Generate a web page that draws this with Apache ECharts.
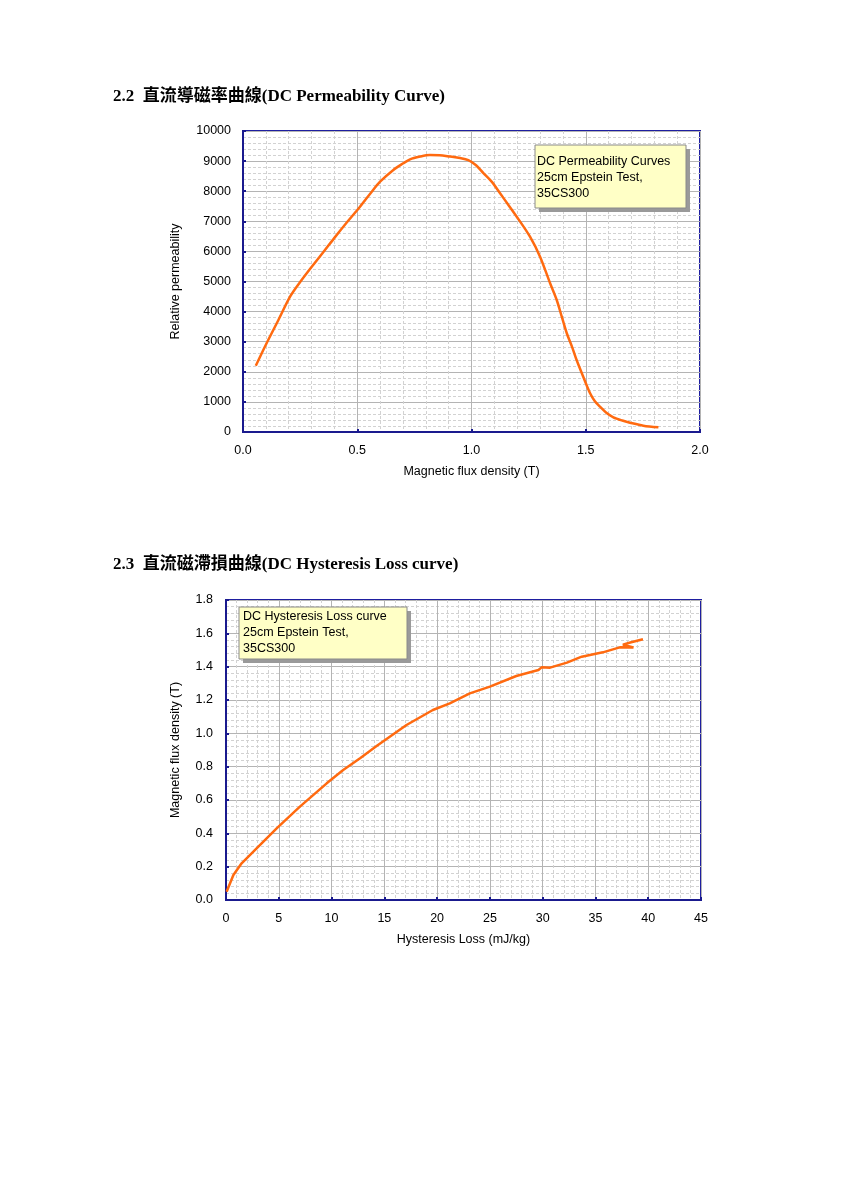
<!DOCTYPE html>
<html>
<head>
<meta charset="utf-8">
<script src="https://cdn.jsdelivr.net/npm/echarts@6/dist/echarts.min.js"></script>
<style>html,body{margin:0;padding:0;background:#fff;}#c{width:849px;height:1200px;}</style>
</head>
<body>
<div id="c"></div>
<script>
// ---- Data: DC Permeability curve (B in T, relative permeability)
var permB  = [0.056, 0.10, 0.155, 0.206, 0.25, 0.30, 0.352, 0.40, 0.454, 0.512, 0.56, 0.60, 0.658, 0.70, 0.731, 0.775, 0.818, 0.86, 0.906, 0.95, 0.986, 1.02, 1.052, 1.09, 1.125, 1.16, 1.198, 1.256, 1.30, 1.344, 1.373, 1.395, 1.417, 1.44, 1.46, 1.489, 1.519, 1.54, 1.562, 1.59, 1.621, 1.66, 1.694, 1.752, 1.818];
var permMu = [2200, 2900, 3720, 4495, 4980, 5480, 5980, 6450, 6960, 7485, 7950, 8315, 8705, 8920, 9060, 9150, 9200, 9195, 9150, 9100, 9030, 8860, 8600, 8300, 7930, 7560, 7153, 6489, 5824, 4940, 4385, 3830, 3280, 2830, 2392, 1837, 1285, 1020, 841, 640, 488, 380, 310, 210, 155];
// ---- Data: DC Hysteresis loss curve (loss mJ/kg, B in T)
var lossL = [0.06, 0.7, 1.48, 2.9, 4.8, 7.0, 9.54, 11.1, 12.7, 14.3, 17.1, 19.6, 21.2, 23.1, 25.0, 27.5, 29.6, 29.9, 30.7, 32.3, 33.7, 35.7, 37.3, 38.6, 37.6, 38.3, 39.5];
var lossB = [0.05, 0.15, 0.22, 0.31, 0.43, 0.56, 0.70, 0.78, 0.85, 0.925, 1.05, 1.14, 1.18, 1.24, 1.28, 1.344, 1.38, 1.396, 1.394, 1.424, 1.46, 1.486, 1.516, 1.515, 1.532, 1.545, 1.564];
// ---- Texts
var title1 = '2.2  直流導磁率曲線(DC Permeability Curve)';
var title2 = '2.3  直流磁滯損曲線(DC Hysteresis Loss curve)';
var note1 = ['DC Permeability Curves', '25cm Epstein Test,', '35CS300'];
var note2 = ['DC Hysteresis Loss curve', '25cm Epstein Test,', '35CS300'];

function pairs(xs, ys){ return xs.map(function(x,i){ return [x, ys[i]]; }); }

var FONT = '"Liberation Sans", Arial, sans-serif';
var AXC = '#1a1a8e';
function axisCommon(extra){
  var o = {
    axisLine: {show: true, onZero: false, lineStyle: {color: AXC, width: 2}},
    axisTick: {show: true, inside: true, length: 3, lineStyle: {color: AXC, width: 2}},
    axisLabel: {color: '#000', fontFamily: FONT, fontSize: 12.5, margin: 12, formatter: function(v){ return String(v); }},
    splitLine: {show: true, lineStyle: {color: '#b4b4b4', width: 1}},
    minorTick: {show: true, splitNumber: 5, length: 0},
    minorSplitLine: {show: true, lineStyle: {color: '#d2d2d2', width: 1, type: [3, 2]}},
    nameLocation: 'middle',
    nameTextStyle: {color: '#000', fontFamily: FONT, fontSize: 12.5}
  };
  for (var k in extra) o[k] = extra[k];
  return o;
}
function noteBox(x, y, w, h, lines, tx, ty){
  return {
    type: 'group', z: 100, children: [
      {type: 'rect', z: 100, shape: {x: x + 4, y: y + 4, width: w, height: h}, style: {fill: '#9a9a9a'}},
      {type: 'rect', z: 101, shape: {x: x, y: y, width: w, height: h}, style: {fill: '#ffffc6', stroke: '#8a8a8a', lineWidth: 1}},
      {type: 'text', z: 102, x: tx, y: ty, style: {text: lines.join('\n'), fill: '#000', font: '12.5px ' + FONT, lineHeight: 16, textVerticalAlign: 'top'}}
    ]
  };
}

var chart = echarts.init(document.getElementById('c'), null, {renderer: 'canvas'});
chart.setOption({
  backgroundColor: '#fff',
  animation: false,
  title: [
    {text: title1, left: 108, top: 83, textStyle: {fontFamily: '"Liberation Serif","Noto Sans CJK TC",serif', fontWeight: 'bold', fontSize: 17, color: '#000'}},
    {text: title2, left: 108, top: 551, textStyle: {fontFamily: '"Liberation Serif","Noto Sans CJK TC",serif', fontWeight: 'bold', fontSize: 17, color: '#000'}}
  ],
  grid: [
    {left: 243, top: 131, width: 457, height: 301, show: true, borderColor: '#1e1ea0', borderWidth: 2, backgroundColor: 'transparent'},
    {left: 226, top: 600, width: 475, height: 300, show: true, borderColor: '#1e1ea0', borderWidth: 2, backgroundColor: 'transparent'}
  ],
  xAxis: [
    axisCommon({type: 'value', gridIndex: 0, min: 0, max: 2, interval: 0.5, name: 'Magnetic flux density (T)', nameGap: 33,
      axisLabel: {color: '#000', fontFamily: FONT, fontSize: 12.5, margin: 12, formatter: function(v){return v.toFixed(1);}}}),
    axisCommon({type: 'value', gridIndex: 1, min: 0, max: 45, interval: 5, name: 'Hysteresis Loss (mJ/kg)', nameGap: 33})
  ],
  yAxis: [
    axisCommon({type: 'value', gridIndex: 0, min: 0, max: 10000, interval: 1000, name: 'Relative permeability', nameGap: 61}),
    axisCommon({type: 'value', gridIndex: 1, min: 0, max: 1.8, interval: 0.2, name: 'Magnetic flux density (T)', nameGap: 44,
      axisLabel: {color: '#000', fontFamily: FONT, fontSize: 12.5, margin: 13, formatter: function(v){return v.toFixed(1);}}})
  ],
  series: [
    {type: 'line', xAxisIndex: 0, yAxisIndex: 0, data: pairs(permB, permMu), smooth: 0.3, showSymbol: false,
      lineStyle: {color: '#ff6a10', width: 2.5}, z: 5},
    {type: 'line', xAxisIndex: 1, yAxisIndex: 1, data: pairs(lossL, lossB), smooth: false, showSymbol: false,
      lineStyle: {color: '#ff6a10', width: 2.5}, z: 5}
  ],
  graphic: [
    noteBox(535, 145, 151, 63, note1, 537, 154),
    noteBox(239, 607, 168, 52, note2, 243, 609)
  ]
});
</script>
</body>
</html>
